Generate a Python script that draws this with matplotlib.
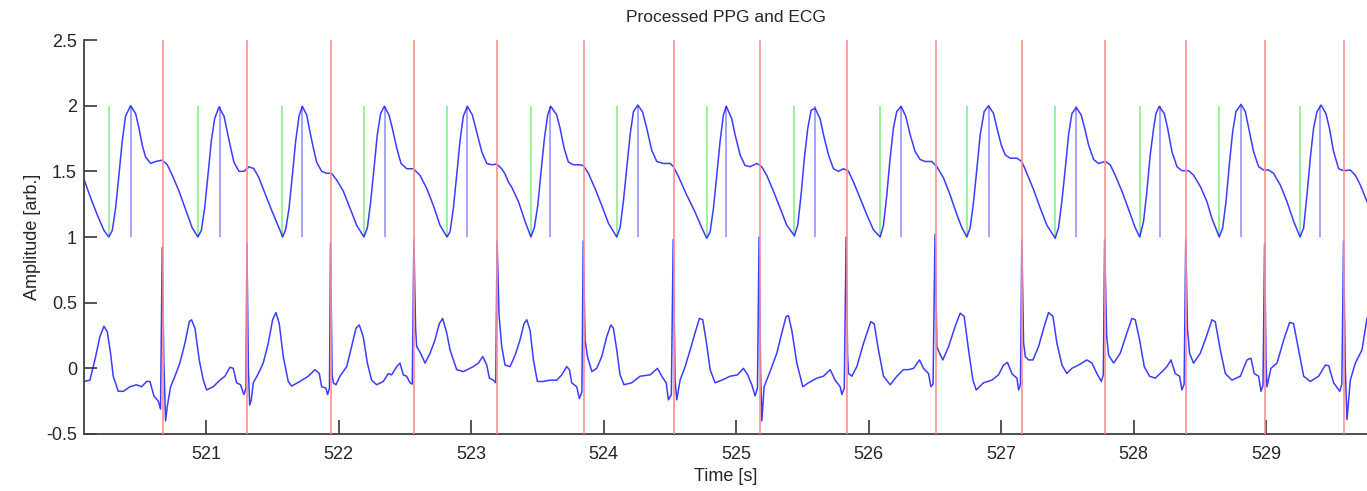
import matplotlib
matplotlib.use("Agg")
import matplotlib.pyplot as plt
import numpy as np

# R-peak times (red), PPG foot times (green), PPG peak times (blue)
R_TIMES = [520.673, 521.310, 521.941, 522.570, 523.197, 523.849, 524.529, 525.178,
           525.835, 526.509, 527.158, 527.785, 528.394, 528.990, 529.587]
FOOT_TIMES = [520.265, 520.937, 521.574, 522.191, 522.819, 523.449, 524.098, 524.778,
              525.439, 526.086, 526.741, 527.407, 528.049, 528.645, 529.252]
PEAK_TIMES = [520.432, 521.101, 521.722, 522.349, 522.966, 523.595, 524.257, 524.923,
              525.595, 526.245, 526.909, 527.566, 528.195, 528.809, 529.408]

PPG_T = [
    520.077, 520.127, 520.177, 520.228, 520.265, 520.291, 520.316, 520.341, 520.366, 520.391,
    520.429, 520.467, 520.492, 520.517, 520.542, 520.580, 520.618, 520.668, 520.706, 520.744,
    520.794, 520.844, 520.894, 520.937,
    520.963, 520.988, 521.013, 521.038, 521.063, 521.096, 521.134, 521.159, 521.184, 521.209,
    521.247, 521.285, 521.323, 521.360, 521.398, 521.448, 521.499, 521.549, 521.577,
    521.600, 521.625, 521.650, 521.675, 521.700, 521.725, 521.758, 521.783, 521.808, 521.833,
    521.871, 521.909, 521.946, 521.984, 522.034, 522.085, 522.135, 522.190,
    522.216, 522.241, 522.266, 522.291, 522.316, 522.344, 522.379, 522.404, 522.437, 522.470,
    522.513, 522.563, 522.613, 522.664, 522.714, 522.764, 522.817,
    522.840, 522.865, 522.890, 522.915, 522.940, 522.971, 523.008, 523.041, 523.079, 523.117,
    523.154, 523.192, 523.230, 523.255, 523.280, 523.305, 523.356, 523.406, 523.450,
    523.476, 523.502, 523.527, 523.552, 523.577, 523.600, 523.645, 523.670, 523.700, 523.733,
    523.771, 523.809, 523.846, 523.884, 523.934, 523.985, 524.035, 524.098,
    524.123, 524.148, 524.173, 524.199, 524.224, 524.257, 524.292, 524.324, 524.362, 524.400,
    524.450, 524.501, 524.526, 524.564, 524.626, 524.689, 524.740, 524.777,
    524.803, 524.828, 524.853, 524.878, 524.903, 524.925, 524.966, 524.991, 525.029, 525.066,
    525.104, 525.155, 525.192, 525.230, 525.280, 525.331, 525.381, 525.439,
    525.464, 525.489, 525.514, 525.540, 525.565, 525.595, 525.633, 525.658, 525.696, 525.733,
    525.771, 525.809, 525.847, 525.884, 525.935, 525.985, 526.035, 526.086,
    526.111, 526.136, 526.161, 526.186, 526.211, 526.244, 526.279, 526.312, 526.350, 526.388,
    526.425, 526.476, 526.514, 526.564, 526.614, 526.665, 526.703, 526.740,
    526.765, 526.791, 526.816, 526.841, 526.871, 526.904, 526.942, 526.967, 527.000, 527.030,
    527.067, 527.118, 527.155, 527.193, 527.244, 527.294, 527.344, 527.407,
    527.432, 527.457, 527.483, 527.508, 527.533, 527.566, 527.603, 527.629, 527.659, 527.697,
    527.734, 527.785, 527.822, 527.860, 527.910, 527.961, 528.011, 528.045,
    528.074, 528.099, 528.124, 528.150, 528.167, 528.192, 528.230, 528.255, 528.288, 528.326,
    528.363, 528.414, 528.452, 528.502, 528.552, 528.590, 528.645,
    528.671, 528.696, 528.721, 528.746, 528.771, 528.809, 528.842, 528.867, 528.904, 528.942,
    528.980, 529.018, 529.055, 529.106, 529.156, 529.206, 529.255,
    529.282, 529.307, 529.332, 529.357, 529.383, 529.413, 529.450, 529.476, 529.508, 529.546,
    529.584, 529.634, 529.672, 529.710, 529.760,
]
PPG_Y = [
    1.44, 1.30, 1.17, 1.05, 1.00, 1.05, 1.22, 1.47, 1.73, 1.92,
    2.00, 1.94, 1.83, 1.70, 1.61, 1.56, 1.575, 1.585, 1.55, 1.47,
    1.35, 1.21, 1.07, 1.00,
    1.05, 1.22, 1.47, 1.73, 1.90, 1.99, 1.92, 1.80, 1.68, 1.57,
    1.50, 1.50, 1.535, 1.52, 1.45, 1.32, 1.19, 1.07, 1.00,
    1.06, 1.22, 1.47, 1.73, 1.92, 1.995, 1.93, 1.80, 1.68, 1.57,
    1.50, 1.485, 1.485, 1.435, 1.35, 1.22, 1.09, 1.00,
    1.07, 1.27, 1.52, 1.78, 1.94, 1.995, 1.93, 1.83, 1.68, 1.56,
    1.52, 1.52, 1.47, 1.37, 1.24, 1.09, 1.00,
    1.04, 1.22, 1.47, 1.73, 1.92, 1.995, 1.93, 1.80, 1.65, 1.56,
    1.55, 1.555, 1.52, 1.48, 1.42, 1.38, 1.27, 1.12, 1.00,
    1.07, 1.24, 1.50, 1.75, 1.93, 1.995, 1.93, 1.83, 1.68, 1.57,
    1.55, 1.55, 1.545, 1.485, 1.37, 1.24, 1.105, 1.00,
    1.07, 1.27, 1.52, 1.78, 1.955, 2.005, 1.955, 1.83, 1.66, 1.575,
    1.56, 1.56, 1.535, 1.46, 1.32, 1.19, 1.07, 0.99,
    1.04, 1.22, 1.47, 1.73, 1.93, 1.995, 1.90, 1.78, 1.625, 1.545,
    1.535, 1.56, 1.535, 1.47, 1.35, 1.22, 1.09, 1.01,
    1.09, 1.32, 1.60, 1.83, 1.965, 1.98, 1.90, 1.78, 1.625, 1.52,
    1.50, 1.52, 1.50, 1.42, 1.295, 1.17, 1.055, 1.00,
    1.09, 1.32, 1.60, 1.83, 1.955, 1.995, 1.92, 1.78, 1.65, 1.59,
    1.575, 1.575, 1.535, 1.45, 1.32, 1.17, 1.07, 1.00,
    1.07, 1.27, 1.52, 1.78, 1.955, 2.00, 1.94, 1.83, 1.70, 1.625,
    1.60, 1.60, 1.575, 1.485, 1.36, 1.22, 1.09, 0.99,
    1.07, 1.27, 1.52, 1.78, 1.94, 1.985, 1.93, 1.83, 1.70, 1.59,
    1.56, 1.575, 1.55, 1.47, 1.35, 1.21, 1.07, 1.00,
    1.12, 1.35, 1.625, 1.83, 1.94, 1.995, 1.94, 1.83, 1.65, 1.535,
    1.505, 1.505, 1.47, 1.385, 1.27, 1.14, 1.00,
    1.07, 1.27, 1.55, 1.80, 1.955, 2.01, 1.955, 1.83, 1.65, 1.535,
    1.51, 1.51, 1.485, 1.395, 1.27, 1.12, 1.00,
    1.07, 1.32, 1.60, 1.83, 1.955, 2.005, 1.94, 1.83, 1.65, 1.52,
    1.505, 1.51, 1.47, 1.395, 1.27,
]

ECG_T = [
    520.077, 520.122, 520.160, 520.197, 520.228, 520.253, 520.278, 520.298, 520.336, 520.374,
    520.424, 520.474, 520.512, 520.550, 520.575, 520.605, 520.638, 520.655, 520.668, 520.680,
    520.693, 520.706, 520.731, 520.764, 520.801, 520.839, 520.872, 520.889, 520.915, 520.947,
    520.978, 521.003, 521.053, 521.103, 521.141, 521.179, 521.204, 521.229, 521.259, 521.284,
    521.300, 521.307, 521.318, 521.328, 521.340, 521.355, 521.393, 521.430, 521.468, 521.501,
    521.526, 521.551, 521.581, 521.619, 521.644, 521.707, 521.770, 521.821, 521.853, 521.871,
    521.903, 521.916, 521.930, 521.938, 521.950, 521.959, 521.979, 522.009, 522.060, 522.097,
    522.130, 522.155, 522.185, 522.216, 522.248, 522.286, 522.336, 522.374, 522.399, 522.437,
    522.462, 522.487, 522.512, 522.538, 522.555, 522.567, 522.580, 522.588, 522.618, 522.651,
    522.689, 522.726, 522.759, 522.784, 522.815, 522.840, 522.890, 522.940, 523.016, 523.054,
    523.087, 523.117, 523.137, 523.167, 523.185, 523.195, 523.210, 523.230, 523.255, 523.293,
    523.331, 523.368, 523.398, 523.419, 523.444, 523.469, 523.499, 523.544, 523.595, 523.645,
    523.683, 523.720, 523.741, 523.758, 523.796, 523.816, 523.835, 523.845, 523.859, 523.877,
    523.910, 523.947, 523.985, 524.022, 524.053, 524.073, 524.098, 524.123, 524.153, 524.211,
    524.274, 524.350, 524.405, 524.438, 524.471, 524.488, 524.510, 524.524, 524.538, 524.551,
    524.576, 524.614, 524.652, 524.689, 524.722, 524.747, 524.772, 524.803, 524.840, 524.891,
    524.954, 525.009, 525.054, 525.087, 525.117, 525.142, 525.160, 525.172, 525.183, 525.193,
    525.210, 525.255, 525.306, 525.344, 525.376, 525.394, 525.419, 525.457, 525.502, 525.545,
    525.608, 525.658, 525.709, 525.746, 525.784, 525.797, 525.815, 525.829, 525.840, 525.847,
    525.872, 525.910, 525.960, 526.015, 526.041, 526.073, 526.111, 526.162, 526.212, 526.262,
    526.300, 526.338, 526.383, 526.413, 526.451, 526.469, 526.485, 526.500, 526.514, 526.534,
    526.559, 526.602, 526.652, 526.690, 526.720, 526.753, 526.786, 526.811, 526.866, 526.929,
    526.979, 527.017, 527.047, 527.080, 527.118, 527.131, 527.145, 527.155, 527.168, 527.181,
    527.206, 527.239, 527.281, 527.324, 527.357, 527.390, 527.420, 527.458, 527.495, 527.533,
    527.583, 527.646, 527.684, 527.722, 527.755, 527.770, 527.780, 527.795, 527.810, 527.848,
    527.898, 527.948, 527.986, 528.011, 528.044, 528.079, 528.119, 528.162, 528.213, 528.250,
    528.281, 528.313, 528.346, 528.363, 528.380, 528.392, 528.405, 528.421, 528.451, 528.502,
    528.547, 528.590, 528.615, 528.653, 528.691, 528.741, 528.804, 528.854, 528.884, 528.909,
    528.942, 528.960, 528.975, 528.987, 528.998, 529.005, 529.035, 529.081, 529.131, 529.176,
    529.206, 529.244, 529.282, 529.332, 529.395, 529.446, 529.471, 529.508, 529.554, 529.570,
    529.583, 529.596, 529.609, 529.634, 529.672, 529.722, 529.760,
]
ECG_Y = [
    -0.10, -0.09, 0.065, 0.24, 0.32, 0.28, 0.115, -0.06, -0.175, -0.175,
    -0.14, -0.125, -0.14, -0.10, -0.10, -0.21, -0.25, -0.31, 0.92, 0.05,
    -0.40, -0.29, -0.14, -0.06, 0.04, 0.19, 0.355, 0.37, 0.305, 0.065,
    -0.09, -0.165, -0.14, -0.09, -0.06, 0.008, 0.0, -0.11, -0.125, -0.20,
    -0.15, 0.95, 0.0, -0.28, -0.24, -0.11, -0.04, 0.04, 0.19, 0.37,
    0.425, 0.34, 0.09, -0.10, -0.135, -0.10, -0.06, -0.01, -0.04, -0.14,
    -0.15, -0.20, -0.15, 0.95, -0.05, -0.11, -0.125, -0.06, 0.013, 0.165,
    0.305, 0.33, 0.24, 0.04, -0.09, -0.125, -0.10, -0.04, -0.05, 0.013,
    0.04, -0.05, -0.06, -0.11, -0.12, 0.98, 0.30, 0.165, 0.115, 0.04,
    0.115, 0.215, 0.34, 0.38, 0.27, 0.14, -0.01, -0.025, 0.013, 0.04,
    0.09, 0.025, -0.075, -0.09, -0.11, 0.97, 0.40, 0.165, 0.025, 0.013,
    0.10, 0.215, 0.34, 0.37, 0.29, 0.065, -0.10, -0.10, -0.09, -0.09,
    -0.05, 0.013, -0.01, -0.11, -0.14, -0.23, -0.18, 0.97, 0.215, 0.09,
    -0.025, 0.0, 0.09, 0.24, 0.33, 0.305, 0.14, -0.05, -0.125, -0.11,
    -0.06, -0.05, 0.0, -0.06, -0.11, -0.24, -0.20, 0.98, -0.09, -0.24,
    -0.09, 0.013, 0.14, 0.27, 0.38, 0.37, 0.215, -0.01, -0.11, -0.09,
    -0.06, -0.05, 0.0, -0.05, -0.125, -0.21, -0.15, 1.00, 0.0, -0.40,
    -0.14, -0.025, 0.115, 0.27, 0.395, 0.40, 0.29, 0.04, -0.14, -0.11,
    -0.075, -0.06, -0.01, -0.09, -0.14, -0.20, -0.15, 1.00, 0.10, -0.04,
    -0.06, 0.013, 0.19, 0.355, 0.34, 0.14, -0.06, -0.125, -0.06, -0.01,
    -0.01, 0.0, 0.064, 0.0, -0.04, -0.14, -0.12, 1.02, 0.165, 0.115,
    0.064, 0.165, 0.32, 0.42, 0.395, 0.14, -0.09, -0.165, -0.11, -0.09,
    -0.05, 0.025, 0.045, -0.04, -0.075, -0.165, -0.12, 0.98, 0.20, 0.09,
    0.064, 0.064, 0.165, 0.32, 0.425, 0.395, 0.19, 0.025, -0.04, 0.0,
    0.025, 0.064, 0.04, -0.04, -0.10, -0.05, 0.98, 0.25, 0.10, 0.04,
    0.115, 0.27, 0.38, 0.37, 0.215, 0.013, -0.06, -0.075, -0.025, 0.013,
    0.064, -0.04, -0.06, -0.165, -0.12, 0.98, 0.30, 0.115, 0.04, 0.115,
    0.24, 0.37, 0.355, 0.14, -0.04, -0.09, -0.06, 0.064, 0.077, -0.04,
    -0.06, -0.175, -0.13, 0.95, 0.05, -0.14, 0.0, 0.04, 0.215, 0.35,
    0.34, 0.14, -0.06, -0.10, -0.06, 0.025, 0.02, -0.11, -0.175, -0.12,
    0.97, 0.0, -0.39, -0.09, 0.04, 0.14, 0.38,
]

Y_TICKS = [-0.5, 0, 0.5, 1, 1.5, 2, 2.5]
Y_TICK_LABELS = ["-0.5", "0", "0.5", "1", "1.5", "2", "2.5"]
X_TICKS = [521, 522, 523, 524, 525, 526, 527, 528, 529]

plt.rcParams["font.family"] = ["Liberation Sans", "DejaVu Sans"]

fig = plt.figure(figsize=(13.67, 4.91), dpi=100)
ax = fig.add_axes([0.0614, 0.1161, 0.9386, 0.8024])

ax.plot(ECG_T, ECG_Y, color="#1a1aff", linewidth=1.1, alpha=0.85, zorder=2)
ax.plot(PPG_T, PPG_Y, color="#1a1aff", linewidth=1.1, alpha=0.85, zorder=2)

ax.vlines(FOOT_TIMES, 1, 2, color="#7fef7f", linewidth=1.1, zorder=1)
ax.vlines(PEAK_TIMES, 1, 2, color="#8c8cff", linewidth=1.1, zorder=1)
ax.vlines(R_TIMES, -0.5, 2.5, color="#ff8f8f", linewidth=1.2, zorder=3)

ax.set_xlim(520.077, 529.76)
ax.set_ylim(-0.5, 2.5)
ax.set_xticks(X_TICKS)
ax.set_xticklabels([str(t) for t in X_TICKS])
ax.set_yticks(Y_TICKS)
ax.set_yticklabels(Y_TICK_LABELS)

for side in ["top", "right"]:
    ax.spines[side].set_visible(False)
for side in ["left", "bottom"]:
    ax.spines[side].set_color("#404040")
    ax.spines[side].set_linewidth(1.3)

ax.tick_params(axis="x", direction="in", length=10, width=1.1, color="#262626",
               labelsize=13, pad=9, labelcolor="#262626")
ax.tick_params(axis="y", direction="in", length=9, width=1.1, color="#262626",
               labelsize=13, pad=5, labelcolor="#262626")

ax.set_title("Processed PPG and ECG", fontsize=12.5, pad=13, color="#262626")
ax.set_xlabel("Time [s]", fontsize=13, labelpad=3, color="#262626")
ax.set_ylabel("Amplitude [arb.]", fontsize=13, labelpad=4, color="#262626")

fig.savefig("out.png", dpi=100)
